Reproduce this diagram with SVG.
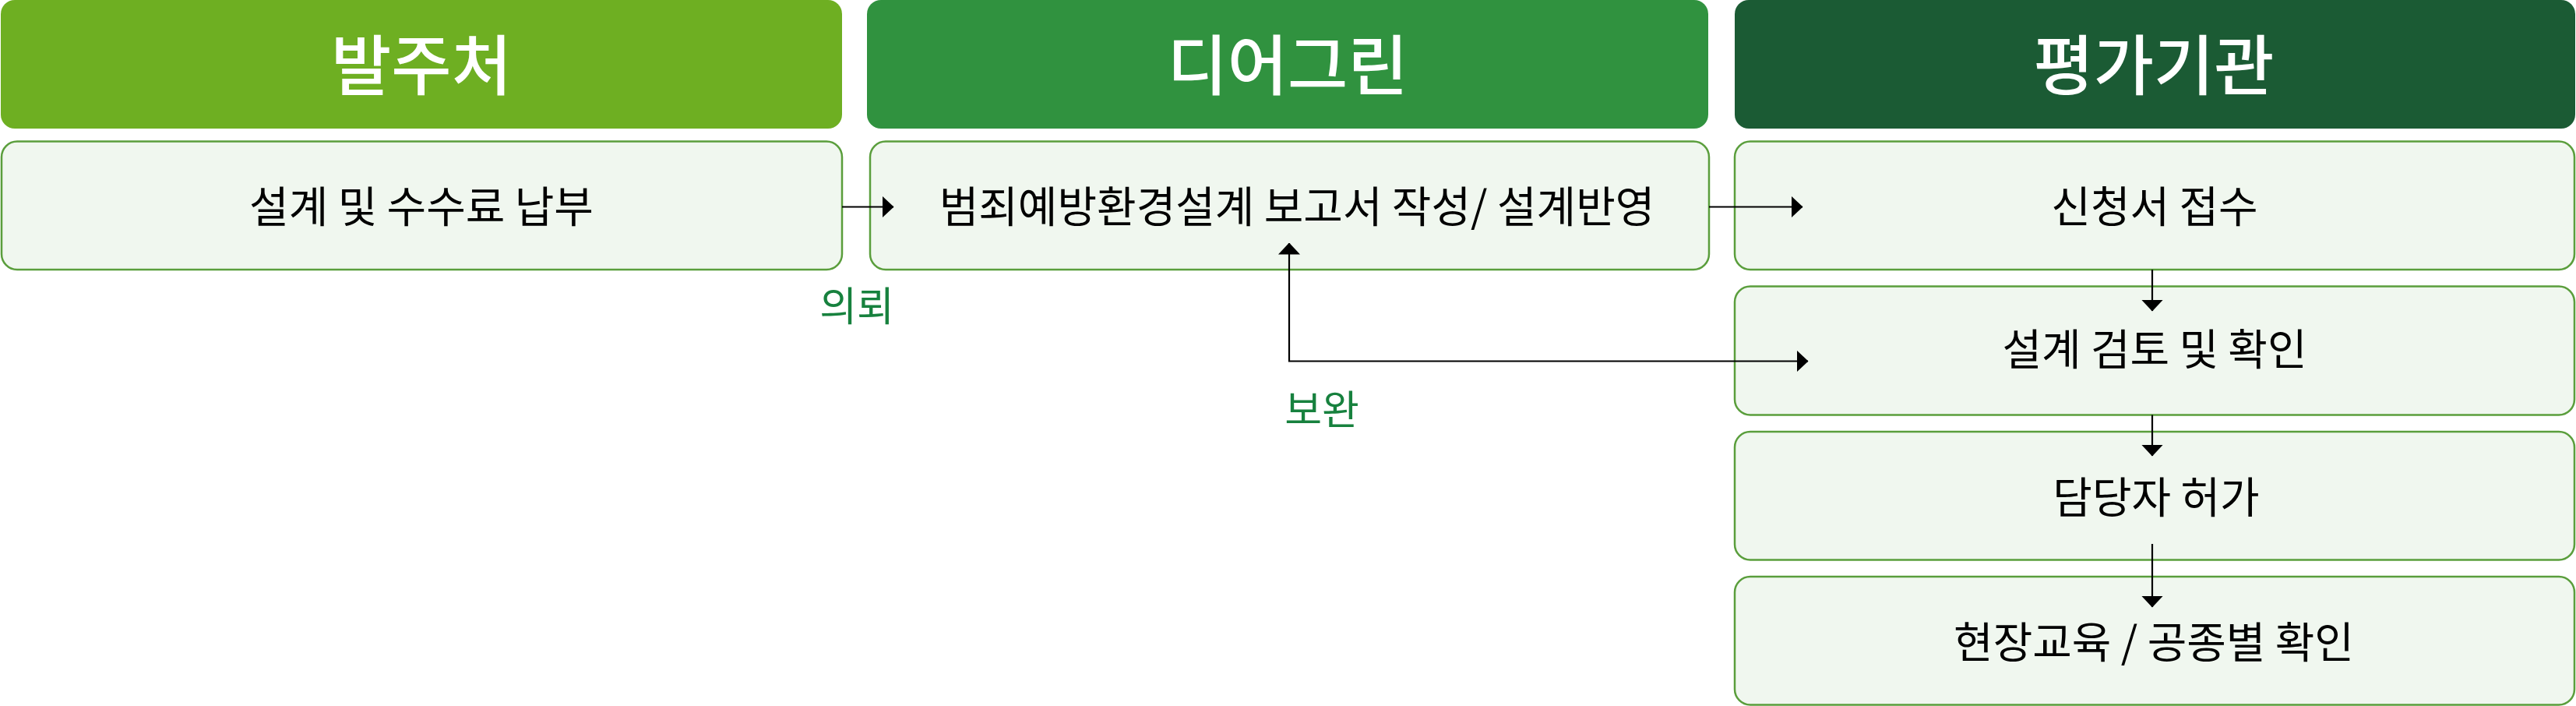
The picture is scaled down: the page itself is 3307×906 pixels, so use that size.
<svg xmlns="http://www.w3.org/2000/svg" width="3307" height="906" viewBox="0 0 3307 906">
<style>
.hdr{font-family:"Noto Sans CJK KR","Noto Sans",sans-serif;font-size:84px;font-weight:500;fill:#ffffff;text-anchor:middle}
.box{fill:#f0f7ef;stroke:#5a9e3c;stroke-width:2.5}
.txt{font-family:"Noto Sans CJK KR","Noto Sans",sans-serif;font-size:55px;font-weight:400;fill:#000000;text-anchor:middle}
.lbl{font-family:"Noto Sans CJK KR","Noto Sans",sans-serif;font-size:52px;font-weight:400;fill:#17813e;text-anchor:middle}
.con{fill:none;stroke:#000000;stroke-width:2.2}
</style>
<defs>
<marker id="ah" markerUnits="userSpaceOnUse" markerWidth="15" markerHeight="28" viewBox="0 0 15 28" refX="14.5" refY="14" orient="auto-start-reverse">
<path d="M0,0 L15,14 L0,28 z" fill="#000000"/>
</marker>
</defs>
<rect width="3307" height="906" fill="#ffffff"/>
<g id="header-client">
<rect x="1" y="0" width="1080" height="165" rx="18" fill="#6eaf22"/>
<text class="hdr" x="541" y="115">발주처</text>
</g>
<g id="header-dgreen">
<rect x="1113" y="0" width="1080" height="165" rx="18" fill="#30923f"/>
<text class="hdr" x="1653" y="115">디어그린</text>
</g>
<g id="header-agency">
<rect x="2227" y="0" width="1079" height="165" rx="18" fill="#1b5b34"/>
<text class="hdr" x="2765" y="115">평가기관</text>
</g>
<g id="node-payment">
<rect class="box" x="2" y="181.5" width="1079" height="164.5" rx="20"/>
<text class="txt" x="541" y="285">설계 및 수수료 납부</text>
</g>
<g id="node-report">
<rect class="box" x="1117" y="181.5" width="1077" height="164.5" rx="20"/>
<text class="txt" x="1665" y="285">범죄예방환경설계 보고서 작성/ 설계반영</text>
</g>
<g id="node-receipt">
<rect class="box" x="2227" y="181.5" width="1078" height="164.5" rx="20"/>
<text class="txt" x="2766" y="285">신청서 접수</text>
</g>
<g id="node-review">
<rect class="box" x="2227" y="367.5" width="1078" height="165" rx="20"/>
<text class="txt" x="2766" y="468">설계 검토 및 확인</text>
</g>
<g id="node-permit">
<rect class="box" x="2227" y="554" width="1078" height="164.5" rx="20"/>
<text class="txt" x="2768" y="658">담당자 허가</text>
</g>
<g id="node-education">
<rect class="box" x="2227" y="740" width="1078" height="164.5" rx="20"/>
<text class="txt" x="2765" y="844">현장교육 / 공종별 확인</text>
</g>
<g id="connectors">
<path class="con" d="M1081,265.5 L1147,265.5" marker-end="url(#ah)"/>
<path class="con" d="M2194,265.5 L2314,265.5" marker-end="url(#ah)"/>
<path class="con" d="M1655,312 L1655,463.5 L2321,463.5" marker-start="url(#ah)" marker-end="url(#ah)"/>
<path class="con" d="M2763,346 L2763,399" marker-end="url(#ah)"/>
<path class="con" d="M2763,532.5 L2763,585" marker-end="url(#ah)"/>
<path class="con" d="M2763,698 L2763,779" marker-end="url(#ah)"/>
<text class="lbl" x="1100" y="412">의뢰</text>
<text class="lbl" x="1697" y="545">보완</text>
</g>
</svg>
